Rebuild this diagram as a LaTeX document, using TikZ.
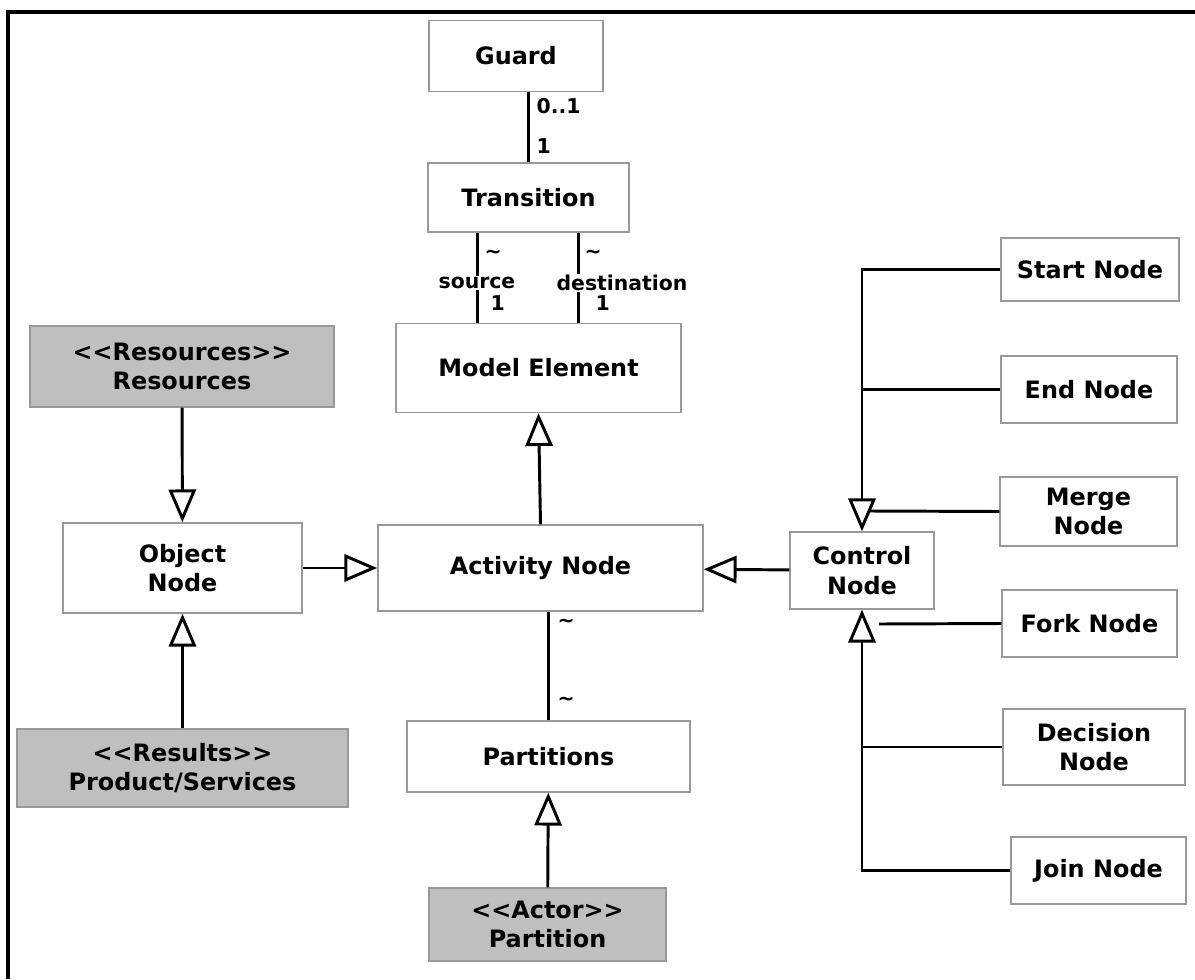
\documentclass[tikz,border=0pt]{standalone}
\usepackage{fontspec}
\setmainfont{DejaVu Sans}
\usetikzlibrary{arrows.meta,calc}

\begin{document}
\begin{tikzpicture}[x=0.025cm,y=-0.025cm,
    cls/.style={draw=black!40,line width=1pt,fill=white,align=center,inner sep=0pt,
      font=\fontsize{17}{21}\selectfont\bfseries},
    stereo/.style={cls,fill=black!25},
    gen/.style={line width=2.1pt,-{Triangle[open,length=0.82cm,width=0.68cm]}},
    assoc/.style={line width=2.1pt},
    mult/.style={inner sep=1pt,font=\fontsize{14.5}{16}\selectfont\bfseries}]
  \useasboundingbox (0,0) rectangle (1195,979);
  \draw[line width=2.2pt] (8,979) -- (8,12) -- (1195,12);
  % middle column
  \node[cls,minimum width=4.35cm,minimum height=1.775cm] (guard) at (516,56) {Guard};
  \node[cls,minimum width=5.025cm,minimum height=1.725cm] (trans) at (528.5,197.5) {Transition};
  \node[cls,minimum width=7.125cm,minimum height=2.225cm] (model) at (538.5,368) {Model Element};
  \node[cls,minimum width=8.125cm,minimum height=2.15cm] (activity) at (540.5,568) {Activity Node};
  \node[cls,minimum width=7.075cm,minimum height=1.775cm] (partitions) at (548.5,756.5) {Partitions};
  \node[stereo,minimum width=5.925cm,minimum height=1.825cm] (actor) at (547.5,924.5) {<{}<Actor>{}>\\Partition};
  % left column
  \node[stereo,minimum width=7.6cm,minimum height=2.025cm] (resources) at (182,366.5) {<{}<Resources>{}>\\Resources};
  \node[cls,minimum width=5.975cm,minimum height=2.25cm] (object) at (182.5,568) {Object\\Node};
  \node[stereo,minimum width=8.275cm,minimum height=1.95cm] (results) at (182.5,768) {<{}<Results>{}>\\Product/Services};
  % right column
  \node[cls,minimum width=3.6cm,minimum height=1.925cm] (control) at (862,570.5) {Control\\Node};
  \node[cls,minimum width=4.45cm,minimum height=1.575cm] (start) at (1090,269.5) {Start Node};
  \node[cls,minimum width=4.4cm,minimum height=1.675cm] (endn) at (1089,389.5) {End Node};
  \node[cls,minimum width=4.425cm,minimum height=1.725cm] (merge) at (1088.5,511.5) {Merge\\Node};
  \node[cls,minimum width=4.375cm,minimum height=1.675cm] (fork) at (1089.5,623.5) {Fork Node};
  \node[cls,minimum width=4.55cm,minimum height=1.9cm] (decision) at (1094,747) {Decision\\Node};
  \node[cls,minimum width=4.375cm,minimum height=1.675cm] (join) at (1098.5,870.5) {Join Node};

  % associations
  \draw[assoc] (trans.north) -- (trans.north |- guard.south);
  \node[mult,anchor=west] (guardmult) at (535,106) {0..1};
  \node[mult,anchor=west] (transmult) at (535,146) {1};
  \coordinate (srctop) at ($(trans.south west)!0.25!(trans.south east)$);
  \coordinate (dsttop) at ($(trans.south west)!0.747!(trans.south east)$);
  \draw[assoc] (srctop) -- (srctop |- model.north);
  \draw[assoc] (dsttop) -- (dsttop |- model.north);
  \node[mult,fill=white] (srclbl) at (477,283) {source};
  \node[mult,fill=white] (dstlbl) at (622,283) {destination};
  \node[mult,anchor=west] (srcmany) at (483,254) {\textasciitilde};
  \node[mult,anchor=west] (dstmany) at (583,254) {\textasciitilde};
  \node[mult,anchor=west] (srcone) at (489,303) {1};
  \node[mult,anchor=west] (dstone) at (594,303) {1};
  \draw[assoc] (partitions.north) -- (partitions.north |- activity.south);
  \node[mult,anchor=west] (actmany) at (556,623) {\textasciitilde};
  \node[mult,anchor=west] (partmany) at (556,701) {\textasciitilde};

  % generalisations
  \draw[gen] (activity.north) -- (model.south);
  \draw[gen] (actor) -- (partitions);
  \draw[gen] (resources) -- (object);
  \draw[gen] (results) -- (object);
  \draw[gen] (object) -- (activity);
  \draw[gen] (control) -- (activity);

  % control node tree
  \coordinate (mergeend) at (870,511);
  \coordinate (forkend) at (879,624);
  \draw[gen] (start.west) -| (control.north);
  \draw[assoc] (endn.west) -- (endn.west -| control);
  \draw[assoc] (merge.west) -- (mergeend);
  \draw[gen] (join.west) -| (control.south);
  \draw[assoc] (decision.west) -- (decision.west -| control);
  \draw[assoc] (fork.west) -- (forkend);
\end{tikzpicture}
\end{document}
